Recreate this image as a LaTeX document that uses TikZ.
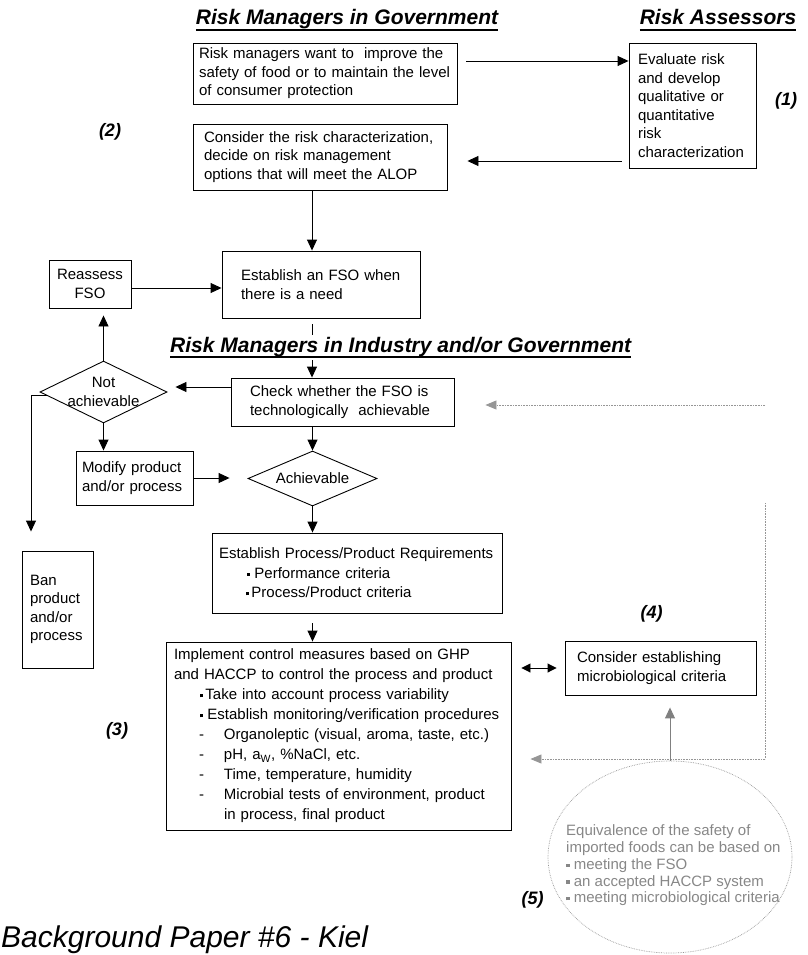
\documentclass[tikz,border=0pt]{standalone}
\usepackage{fontspec}
\setmainfont{Liberation Sans}
\usetikzlibrary{arrows.meta,shapes.geometric}
\definecolor{dotgray}{RGB}{150,150,150}
\definecolor{txtgray}{RGB}{135,135,135}
\newcommand{\bodyfont}{\fontsize{15}{18.5}\selectfont}
\newcommand{\sqb}{\rule[0.16em]{0.23em}{0.23em}}
\newcommand{\hdul}[1]{\setbox0=\hbox{#1}\rlap{\rule[-6pt]{\wd0}{1.8pt}}\box0}
\newcommand{\dashln}{\hspace*{25pt}\makebox[25pt][l]{-}}
\tikzset{
  box/.style={draw, line width=0.9pt, align=left, font=\bodyfont, inner ysep=0pt},
  dia/.style={draw, diamond, aspect=2, inner sep=-2pt, line width=0.9pt,
    align=center, font=\bodyfont},
  head/.style={font=\fontsize{21}{24}\selectfont\bfseries\itshape, inner sep=2pt},
  tag/.style={font=\fontsize{18}{20}\selectfont\bfseries\itshape},
  arr/.style={line width=0.9pt, -{Triangle[length=11pt,width=10pt]}},
  dbl/.style={line width=0.9pt,
    {Triangle[length=9pt,width=9pt]}-{Triangle[length=9pt,width=9pt]}},
  gdot/.style={dotgray, line width=0.8pt, dash pattern=on 0.8pt off 0.8pt},
  gline/.style={gdot, -{Triangle[length=11pt,width=9pt]}},
  garr/.style={dotgray!85!black, line width=1pt, -{Triangle[length=11pt,width=10pt]}}
}

\begin{document}
\begin{tikzpicture}[x=1pt,y=-1pt]
  \useasboundingbox (0,0) rectangle (807,955);

  % column headings
  \node[head, anchor=base] (hgov) at (347,25) {\hdul{Risk Managers in Government}};
  \node[head, anchor=base] (hass) at (718,25) {\hdul{Risk Assessors}};

  % government part
  \node[box, text width=252pt, inner xsep=6pt, minimum height=61pt] (want) at (325,73.5)
    {Risk managers want to\ \ improve the\\safety of food or to maintain the level\\of consumer protection};
  \node[box, text width=109pt, inner xsep=9pt, minimum height=125pt] (ra) at (692.5,105.5)
    {Evaluate risk\\and develop\\qualitative or\\quantitative\\risk\\characterization};
  \node[box, text width=232pt, inner xsep=11pt, minimum height=66pt] (alop) at (320,157)
    {Consider the risk characterization,\\decide on risk management\\options that will meet the ALOP};
  \node[box, text width=160pt, inner xsep=19pt, minimum height=67pt] (fso) at (321,284.5)
    {Establish an FSO when\\there is a need};
  \node[box, align=center, minimum width=82pt, minimum height=48pt, inner xsep=0pt] (reass) at (90,284)
    {Reassess\\FSO};

  \draw[arr, shorten <=9pt] ([yshift=12.5pt]want.east) -- ([yshift=12.5pt]want.east -| ra.west);
  \draw[arr, shorten <=7pt, shorten >=20pt] ([yshift=-4pt]alop.east -| ra.west) -- ([yshift=-4pt]alop.east);
  \draw[arr] ([xshift=-8pt]alop.south) -- ([xshift=-8pt]alop.south |- fso.north);
  \draw[arr] ([yshift=-4pt]reass.east) -- ([yshift=-4pt]reass.east -| fso.west);

  % industry part
  \node[box, text width=185pt, inner xsep=19pt, minimum height=48pt] (check) at (342.5,402)
    {Check whether the FSO is\\technologically\ \ achievable};
  \draw[arr, shorten <=6pt] ([xshift=-9pt]fso.south) -- ([xshift=-9pt]fso.south |- check.north);
  \node[head, anchor=base west, fill=white] (hind) at (168,352)
    {\hdul{Risk Managers in Industry and/or Government}};

  \node[dia, minimum width=127pt, minimum height=62pt] (na) at (103.5,392) {Not\\achievable};
  \node[box, text width=105pt, inner xsep=6pt, minimum height=54pt] (modify) at (134.5,478)
    {Modify product\\and/or process};
  \node[dia, minimum width=129pt, minimum height=55pt] (ach) at (312.5,478.5) {Achievable};
  \node[box, text width=55pt, inner xsep=8pt, minimum height=117pt] (ban) at (57.5,609.5)
    {Ban\\product\\and/or\\process};
  \node[box, text width=276pt, inner xsep=7pt, minimum height=80pt,
    font=\fontsize{15}{19.5}\selectfont] (req) at (357,573)
    {Establish Process/Product Requirements\\
     \hspace*{28pt}\sqb\hspace{4pt}Performance criteria\\
     \hspace*{27pt}\sqb\hspace{2pt}Process/Product criteria};
  \node[box, text width=329pt, inner xsep=8pt, minimum height=188pt,
    font=\fontsize{15}{20}\selectfont] (impl) at (338.5,736)
    {Implement control measures based on GHP\\
     and HACCP to control the process and product\\
     \hspace*{26pt}\sqb\hspace{2pt}Take into account process variability\\
     \hspace*{26pt}\sqb\hspace{4pt}Establish monitoring/verification procedures\\
     \dashln Organoleptic (visual, aroma, taste, etc.)\\
     \dashln pH, a\textsubscript{W}, \%NaCl, etc.\\
     \dashln Time, temperature, humidity\\
     \dashln Microbial tests of environment, product\\
     \hspace*{50pt}in process, final product};
  \node[box, text width=167pt, inner xsep=12pt, minimum height=54pt] (cons) at (660.5,668)
    {Consider establishing\\microbiological criteria};

  \draw[arr, shorten >=8pt] ([yshift=15pt]check.west) -- ([yshift=15pt]check.west -| na.east);
  \draw[arr, shorten >=7pt] (na.north) -- (na.north |- reass.south);
  \draw[arr] (na.south) -- (na.south |- modify.north);
  \draw[arr, shorten >=19pt] (na.184) -| ([xshift=-26.5pt]ban.north);
  \draw[arr, shorten >=18pt] (modify.east) -- (modify.east -| ach.west);
  \draw[arr] (ach.north |- check.south) -- (ach.north);
  \draw[arr] (ach.south) -- (ach.south |- req.north);
  \draw[arr, shorten <=10pt] (ach.south |- req.south) -- (ach.south |- impl.north);
  \draw[dbl, shorten <=10pt, shorten >=8pt] (impl.east |- cons.west) -- (cons.west);

  % imports
  \node[ellipse, draw=dotgray, line width=0.7pt, dash pattern=on 0.7pt off 1pt,
    minimum width=244pt, minimum height=192pt] (eq) at (670,857) {};
  \node[anchor=west, align=left, text=txtgray, inner sep=0pt,
    font=\fontsize{15}{16.7}\selectfont] (eqtxt) at (566,865.5)
    {Equivalence of the safety of\\imported foods can be based on\\
     \sqb\ meeting the FSO\\\sqb\ an accepted HACCP system\\\sqb\ meeting microbiological criteria};

  \coordinate (g1) at (765,405);
  \coordinate (g2) at (765,503);
  \coordinate (g3) at (765,759);
  \draw[gline, shorten >=31pt] (g1) -- (check.east |- g1);
  \draw[gdot] (g2) -- (g3);
  \draw[gline, shorten >=19pt] (g3) -- (impl.east |- g3);
  \draw[garr, shorten >=12pt] (eq.north) -- (eq.north |- cons.south);

  % step numbers
  \node[tag] (t1) at (786,101) {(1)};
  \node[tag] (t2) at (110,132) {(2)};
  \node[tag] (t3) at (117,731) {(3)};
  \node[tag] (t4) at (651.5,614) {(4)};
  \node[tag] (t5) at (532.5,900) {(5)};

  \node[anchor=base west, inner sep=0pt, font=\fontsize{30}{34}\selectfont\itshape] (bgp) at (1,947)
    {Background Paper \#6 - Kiel};
\end{tikzpicture}
\end{document}
